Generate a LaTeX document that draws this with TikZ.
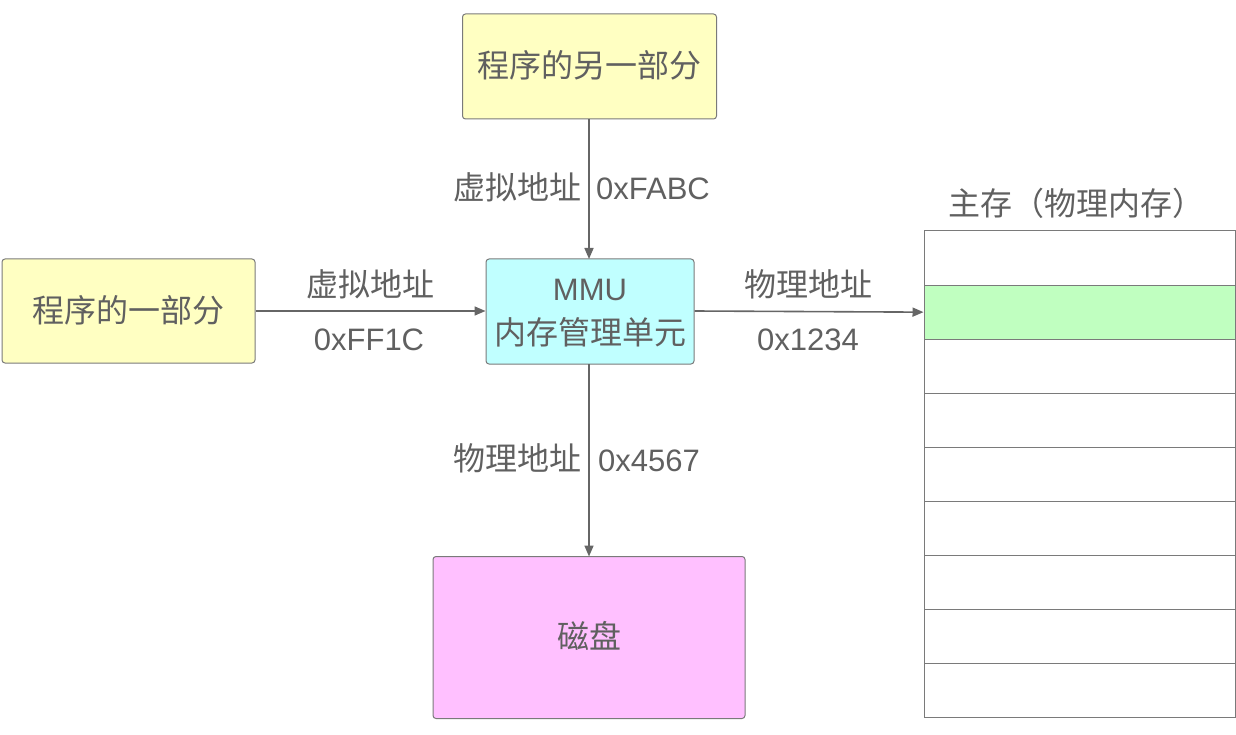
\documentclass[tikz,border=0pt]{standalone}
\usepackage{fontspec}
\setmainfont{Liberation Sans}
\newfontfamily\cjk{Noto Sans CJK SC}
\usetikzlibrary{arrows.meta}
\definecolor{txtc}{HTML}{606060}
\definecolor{linec}{HTML}{666666}
\definecolor{bordc}{HTML}{7A7A7A}
\definecolor{yel}{HTML}{FFFFC2}
\definecolor{cyn}{HTML}{C0FFFF}
\definecolor{pnk}{HTML}{FFC0FF}
\definecolor{grn}{HTML}{C0FFC0}
\tikzset{
  txt/.style={inner sep=0pt, text height=22.4pt, text depth=0pt, text=txtc, font=\fontsize{31}{36}\selectfont},
  ctxt/.style={txt, font=\fontsize{32}{36}\selectfont\cjk},
  box/.style={draw=bordc, line width=1pt, rounded corners=3pt, inner sep=0pt, text height=22.4pt, text depth=0pt, text=txtc, font=\fontsize{32}{36}\selectfont\cjk},
  memrow/.style={draw=bordc, line width=1pt, minimum width=311pt, minimum height=54.1pt, inner sep=0pt},
  conn/.style={draw=linec, line width=1.6pt, -{Triangle[length=11pt,width=9pt]}}
}
\begin{document}
\begin{tikzpicture}[x=1pt,y=-1pt]
\useasboundingbox (0,0) rectangle (1236,735);
% boxes
\node[box, fill=yel, minimum width=254pt, minimum height=105pt] (top) at (589.5,66.5) {程序的另一部分};
\node[box, fill=yel, minimum width=253pt, minimum height=104pt] (left) at (128.5,311) {程序的一部分};
\node[box, fill=cyn, minimum width=208pt, minimum height=105pt] (mmu) at (590,311.5) {};
\node[txt] (mmu1) at (590,289) {MMU};
\node[ctxt] (mmu2) at (590,333) {内存管理单元};
\node[box, fill=pnk, minimum width=312pt, minimum height=162pt] (disk) at (589,637.5) {磁盘};
% memory
\foreach \i in {0,...,8} {
  \node[memrow, fill=white] (m\i) at (1079.5,{231+54.1*\i+27.05}) {};
}
\node[memrow, fill=grn] (m1) at (1079.5,{231+54.1+27.05}) {};
\node[ctxt] (memtitle) at (1076,204) {主存（物理内存）};
% connectors
\coordinate (mmuT) at (589,259);
\coordinate (mmuB) at (589,364);
\coordinate (topB) at (589,119);
\coordinate (diskT) at (589,556.5);
\draw[conn] (topB) -- (mmuT);
\draw[conn] (left.east) -- (left.east -| mmu.west);
\draw[conn] (mmu.east |- 0,311) -- (m1.west);
\draw[conn] (mmuB) -- (diskT);
% labels
\node[ctxt] (l1a) at (370,285) {虚拟地址};
\node[txt] (l1b) at (369,339) {0xFF1C};
\node[ctxt] (l2a) at (517,188) {虚拟地址};
\node[txt] (l2b) at (653,188) {0xFABC};
\node[ctxt] (l3a) at (808,285) {物理地址};
\node[txt] (l3b) at (808,339) {0x1234};
\node[ctxt] (l4a) at (517,459) {物理地址};
\node[txt] (l4b) at (649,460) {0x4567};
\end{tikzpicture}
\end{document}
